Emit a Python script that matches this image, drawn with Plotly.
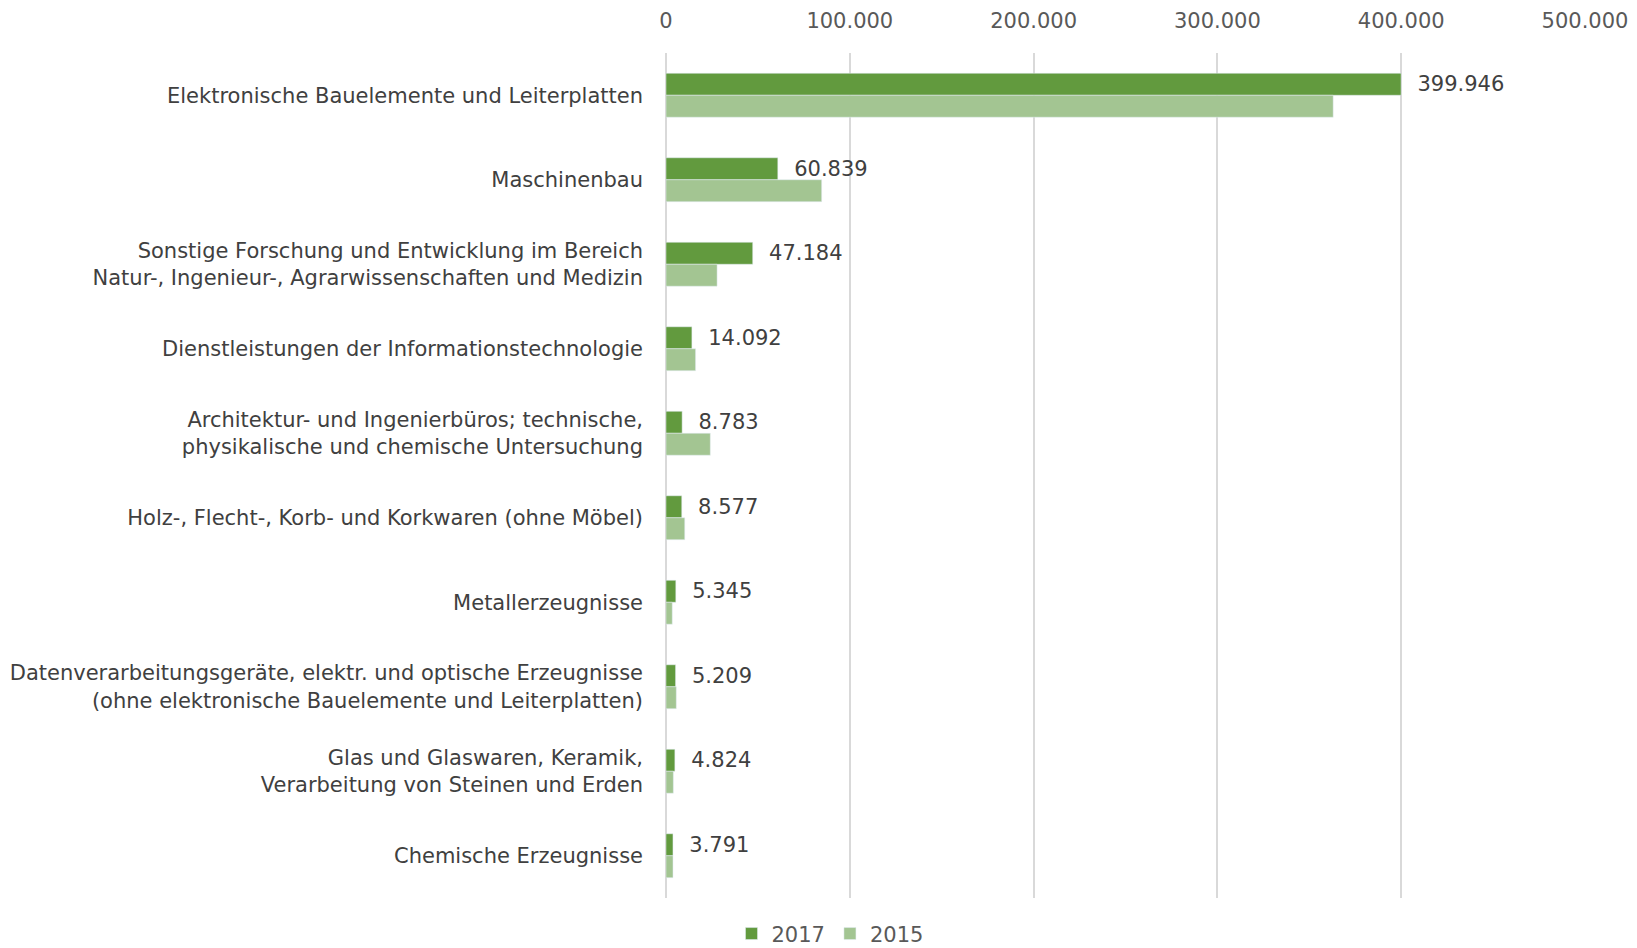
import plotly.graph_objects as go

categories = [
    "Elektronische Bauelemente und Leiterplatten",
    "Maschinenbau",
    "Sonstige Forschung und Entwicklung im Bereich<br>Natur-, Ingenieur-, Agrarwissenschaften und Medizin",
    "Dienstleistungen der Informationstechnologie",
    "Architektur- und Ingenierbüros; technische,<br>physikalische und chemische Untersuchung",
    "Holz-, Flecht-, Korb- und Korkwaren (ohne Möbel)",
    "Metallerzeugnisse",
    "Datenverarbeitungsgeräte, elektr. und optische Erzeugnisse<br>(ohne elektronische Bauelemente und Leiterplatten)",
    "Glas und Glaswaren, Keramik,<br>Verarbeitung von Steinen und Erden",
    "Chemische Erzeugnisse",
]
values_2017 = [399946, 60839, 47184, 14092, 8783, 8577, 5345, 5209, 4824, 3791]
values_2015 = [363000, 84700, 27800, 16100, 24100, 10200, 3400, 5600, 4000, 3800]
tick_values = [0, 100000, 200000, 300000, 400000, 500000]

FONT = "DejaVu Sans"
FS = 21

fig = go.Figure()
fig.add_trace(go.Bar(
    y=categories, x=values_2017, name="2017", orientation="h",
    marker=dict(color="#629A3E"),
    text=values_2017, texttemplate="\u00a0\u00a0%{x:,}", textposition="outside",
    constraintext="none",
    textfont=dict(family=FONT, size=FS, color="#404040"),
    cliponaxis=False,
))
fig.add_trace(go.Bar(
    y=categories, x=values_2015, name="2015", orientation="h",
    marker=dict(color="#A3C592"),
))

fig.update_layout(
    width=1629, height=940,
    separators=",.",
    barmode="group", bargap=0.48, bargroupgap=0,
    plot_bgcolor="white", paper_bgcolor="white",
    margin=dict(l=658, r=52, t=45, b=50, autoexpand=False),
    font=dict(family=FONT, size=FS, color="#404040"),
    showlegend=True,
    legend=dict(orientation="h", xref="container", yref="container",
                x=0.5046, xanchor="center", y=0.0150, yanchor="middle",
                font=dict(family=FONT, size=FS, color="#595959"),
                traceorder="normal", itemwidth=30),
    xaxis=dict(side="top", range=[0, 500000], tickvals=tick_values, tickformat=",d",
               showgrid=True, gridcolor="#D9D9D9", gridwidth=2,
               zeroline=True, zerolinecolor="#D9D9D9", zerolinewidth=2,
               tickfont=dict(family=FONT, size=FS, color="#595959"),
               showline=False, ticks="", automargin=False, ticklabelstandoff=20),
    yaxis=dict(autorange="reversed", showgrid=False, zeroline=False,
               tickfont=dict(family=FONT, size=FS, color="#404040"),
               ticks="", ticklabelstandoff=22, automargin=False),
)

fig.write_html("out.html")
